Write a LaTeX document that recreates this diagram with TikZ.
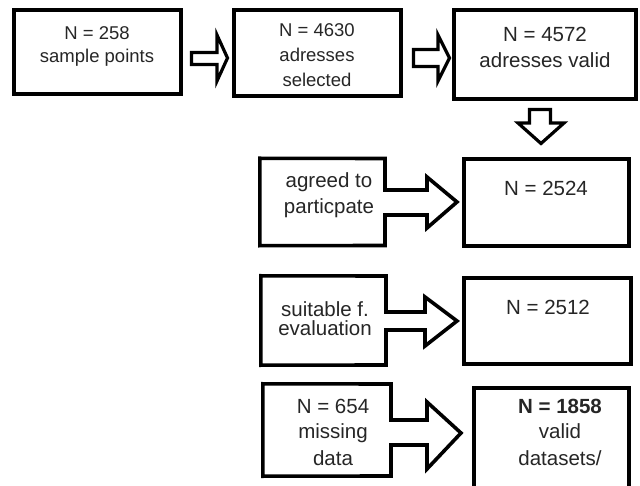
\documentclass[tikz,border=0pt]{standalone}
\usepackage{fontspec}
\setmainfont{Liberation Sans}
\begin{document}
\begin{tikzpicture}[x=1pt,y=-1pt]
\tikzset{
  box/.style={draw, line width=3.6pt, inner sep=0pt, line join=miter},
  ghost/.style={inner sep=0pt},
  blk/.style={draw, line width=3.2pt, fill=white, line join=miter},
  txt/.style={anchor=base, inner sep=0pt, text=black!85, font=\fontsize{20.5}{24}\selectfont},
  txs/.style={txt, font=\fontsize{18.5}{22}\selectfont},
  txb/.style={txt, font=\fontsize{20.5}{24}\selectfont\bfseries}
}
\useasboundingbox (0,0) rectangle (640,486);
\clip (0,0) rectangle (640,486);
\fill[white] (0,0) rectangle (640,486);

% top row boxes
\node[box, minimum width=167pt, minimum height=84pt] (b1) at (97.5,52) {};
\node[box, minimum width=167pt, minimum height=86pt] (b2) at (317.5,53) {};
\node[box, minimum width=182pt, minimum height=89pt] (b3) at (545,54.5) {};
% right column boxes
\node[box, minimum width=165pt, minimum height=87pt] (b4) at (546.5,202.5) {};
\node[box, minimum width=167pt, minimum height=86pt] (b5) at (547.5,321) {};
\node[box, minimum width=155pt, minimum height=132pt] (b6) at (551.5,454) {};

% left boxes with attached block arrows
\node[ghost, minimum width=125pt, minimum height=87pt] (l1) at (322.5,202) {};
\node[ghost, minimum width=125pt, minimum height=89pt] (l2) at (323.5,320.5) {};
\node[ghost, minimum width=128pt, minimum height=92pt] (l3) at (327,430) {};
\draw[box] (l1.north west) -- (385,158.5) -- (385,190) -- (427,190) -- (427,177)
  -- (457,202) coordinate (l1tip) -- (427,228) -- (427,215) -- (385,215)
  -- (385,245.5) -- (l1.south west) -- cycle;
\draw[box] (l2.north west) -- (386,276) -- (386,312) -- (425,312) -- (425,297)
  -- (457,321) coordinate (l2tip) -- (425,346) -- (425,330) -- (386,330)
  -- (386,365) -- (l2.south west) -- cycle;
\draw[box] (l3.north west) -- (391,384) -- (391,420) -- (427,420) -- (427,402)
  -- (461,433) coordinate (l3tip) -- (427,469) -- (427,445) -- (391,445)
  -- (391,476) -- (l3.south west) -- cycle;

% block arrows between boxes
\draw[blk] (191.5,52.5) -- (217,52.5) -- (217,35) -- (227.5,58)
  -- (217,81) -- (217,64.5) -- (191.5,64.5) -- cycle;
\draw[blk] (413.5,49.5) -- (438,49.5) -- (438,35) -- (449.5,58)
  -- (438,81) -- (438,66.5) -- (413.5,66.5) -- cycle;
\draw[blk] (529.5,109.5) -- (550.5,109.5) -- (550.5,123) -- (564,123)
  -- (541,143.5) -- (518,123) -- (529.5,123) -- cycle;

% texts
\node[txs] (t1a) at (97,39.5) {N = 258};
\node[txs] (t1b) at (97,63) {sample points};
\node[txs] (t2a) at (317,37) {N = 4630};
\node[txs] (t2b) at (317,62) {adresses};
\node[txs] (t2c) at (317,87) {selected};
\node[txt] (t3a) at (545,42) {N = 4572};
\node[txt] (t3b) at (545,68) {adresses valid};
\node[txt] (t4a) at (329,188) {agreed to};
\node[txt] (t4b) at (329,214) {particpate};
\node[txt] (t5) at (546,196) {N = 2524};
\node[txt] (t6a) at (325,317) {suitable f.};
\node[txt] (t6b) at (325,336) {evaluation};
\node[txt] (t7) at (548,315) {N = 2512};
\node[txt] (t8a) at (333,413) {N = 654};
\node[txt] (t8b) at (333,438) {missing};
\node[txt] (t8c) at (333,465) {data};
\node[txb] (t9a) at (560,413) {N = 1858};
\node[txt] (t9b) at (560,438) {valid};
\node[txt] (t9c) at (560,465) {datasets/};
\end{tikzpicture}
\end{document}
